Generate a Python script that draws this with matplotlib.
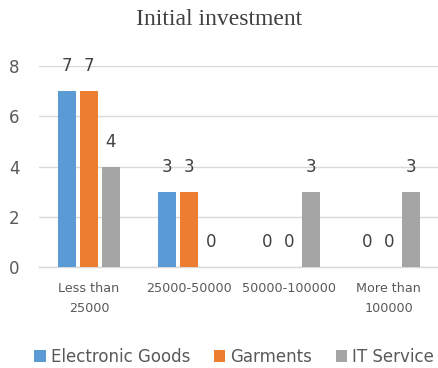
import matplotlib.pyplot as plt
import numpy as np

categories = ["Less than\n25000", "25000-50000", "50000-100000", "More than\n100000"]
electronic = [7, 3, 0, 0]
garments = [7, 3, 0, 0]
it_service = [4, 0, 3, 3]

series = [("Electronic Goods", electronic, "#5B9BD5"),
          ("Garments", garments, "#ED7D31"),
          ("IT Service", it_service, "#A5A5A5")]

textColor = "#595959"
gridColor = "#D9D9D9"

fig = plt.figure(figsize=(4.38, 3.68), dpi=100)
ax = fig.add_axes([0.089, 0.2745, 0.913, 0.546])

x = np.arange(len(categories))
width = 0.18
offsets = [-0.22, 0, 0.22]

for (name, vals, color), off in zip(series, offsets):
    bars = ax.bar(x + off, vals, width, color=color, label=name, zorder=3)
    for b, v in zip(bars, vals):
        ax.annotate(str(v), (b.get_x() + b.get_width() / 2, v),
                    xytext=(0, 18), textcoords="offset points",
                    ha="center", va="center", fontsize=12, color="#404040")

ax.set_xlim(-0.5, 3.5)
ax.set_ylim(0, 8)
ax.set_yticks([0, 2, 4, 6, 8])
ax.set_xticks(x)
ax.set_xticklabels(categories, fontsize=9.2, color=textColor, linespacing=1.65)
ax.tick_params(axis="y", labelsize=12, labelcolor=textColor, length=0, pad=14)
ax.tick_params(axis="x", length=0, pad=11)
ax.grid(axis="y", color=gridColor, linewidth=1, zorder=0)
for s in ["top", "right", "left"]:
    ax.spines[s].set_visible(False)
ax.spines["bottom"].set_color(gridColor)
ax.spines["bottom"].set_linewidth(1)

fig.suptitle("Initial investment", family="Liberation Serif", fontsize=17,
             color="#404040", x=0.5, y=0.975)

leg = fig.legend(loc="lower center", bbox_to_anchor=(0.535, -0.035), ncol=3,
                 frameon=False, fontsize=12, handlelength=0.7, handleheight=0.7,
                 handletextpad=0.3, columnspacing=1.4)
for t in leg.get_texts():
    t.set_color(textColor)

fig.savefig("out.png", dpi=100)
